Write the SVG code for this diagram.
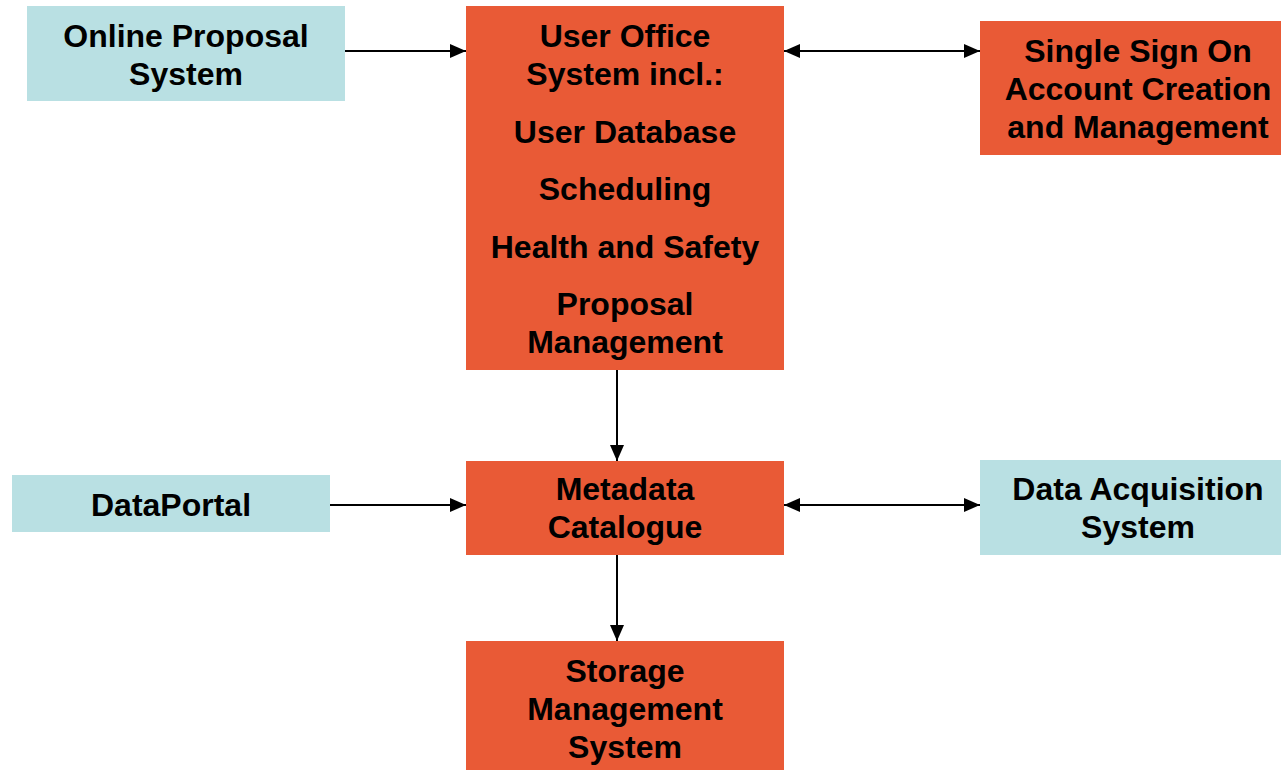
<svg xmlns="http://www.w3.org/2000/svg" width="1281" height="770" viewBox="0 0 1281 770">
<style>
.blue{fill:#B9E0E3}
.orange{fill:#E95A36}
text{font-family:"Liberation Sans",Arial,sans-serif;font-weight:bold;font-size:32px;fill:#000;text-anchor:middle}
.c{stroke:#000;stroke-width:2;fill:none}
</style>
<defs>
<marker id="ah" viewBox="0 0 16 14" refX="16" refY="7" markerWidth="16" markerHeight="14" markerUnits="userSpaceOnUse" orient="auto-start-reverse">
<path d="M0,0 L16,7 L0,14 Z" fill="#000"/>
</marker>
</defs>
<rect width="1281" height="770" fill="#fff"/>
<g id="connectors">
<line class="c" x1="345" y1="51" x2="466" y2="51" marker-end="url(#ah)"/>
<line class="c" x1="784" y1="51" x2="980" y2="51" marker-start="url(#ah)" marker-end="url(#ah)"/>
<line class="c" x1="617" y1="370" x2="617" y2="461" marker-end="url(#ah)"/>
<line class="c" x1="330" y1="505" x2="466" y2="505" marker-end="url(#ah)"/>
<line class="c" x1="784" y1="505" x2="980" y2="505" marker-start="url(#ah)" marker-end="url(#ah)"/>
<line class="c" x1="617" y1="555" x2="617" y2="641" marker-end="url(#ah)"/>
</g>
<g id="online-proposal">
<rect class="blue" x="27" y="6" width="318" height="95"/>
<text x="186" y="47">Online Proposal</text>
<text x="186" y="85">System</text>
</g>
<g id="user-office">
<rect class="orange" x="466" y="6" width="318" height="364"/>
<text x="625" y="47">User Office</text>
<text x="625" y="85">System incl.:</text>
<text x="625" y="143">User Database</text>
<text x="625" y="200">Scheduling</text>
<text x="625" y="258">Health and Safety</text>
<text x="625" y="315">Proposal</text>
<text x="625" y="353">Management</text>
</g>
<g id="sso">
<rect class="orange" x="980" y="21" width="301" height="134"/>
<text x="1138" y="62">Single Sign On</text>
<text x="1138" y="100">Account Creation</text>
<text x="1138" y="138">and Management</text>
</g>
<g id="dataportal">
<rect class="blue" x="12" y="475" width="318" height="57"/>
<text x="171" y="516">DataPortal</text>
</g>
<g id="metadata">
<rect class="orange" x="466" y="461" width="318" height="94"/>
<text x="625" y="500">Metadata</text>
<text x="625" y="538">Catalogue</text>
</g>
<g id="das">
<rect class="blue" x="980" y="460" width="301" height="95"/>
<text x="1138" y="500">Data Acquisition</text>
<text x="1138" y="538">System</text>
</g>
<g id="storage">
<rect class="orange" x="466" y="641" width="318" height="129"/>
<text x="625" y="682">Storage</text>
<text x="625" y="720">Management</text>
<text x="625" y="758">System</text>
</g>
</svg>
